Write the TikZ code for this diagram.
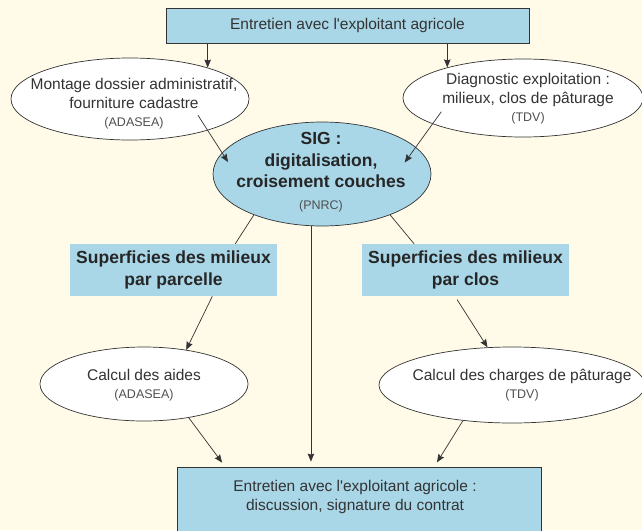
\documentclass[tikz,border=0pt]{standalone}
\usepackage{fontspec}
\setmainfont{Liberation Sans}
\usetikzlibrary{shapes.geometric,arrows.meta}
\definecolor{fond}{HTML}{FFFBE8}
\definecolor{bleu}{HTML}{A9D7E8}
\definecolor{trait}{HTML}{333333}
\definecolor{texte}{HTML}{333333}
\definecolor{gris}{HTML}{505050}
\newcommand{\petit}{\fontsize{12.5}{18.5}\selectfont\mdseries\color{gris}}
\newcommand{\apos}{\textquotesingle}

\begin{document}
\begin{tikzpicture}[x=1pt,y=-1pt,
    txt/.style={align=center,text=texte,font=\fontsize{15.5}{18.5}\selectfont},
    gras/.style={align=center,text=black!85,font=\fontsize{17.5}{21.5}\selectfont\bfseries},
    boite/.style={rectangle,fill=bleu,draw=trait,line width=0.8pt,inner sep=0pt},
    bande/.style={rectangle,fill=bleu,inner sep=0pt,minimum width=207,minimum height=52},
    oval/.style={ellipse,draw=trait,fill=white,line width=0.7pt,inner sep=0pt},
    fl/.style={draw=trait,line width=0.7pt,-{Stealth[length=8pt,width=6.5pt,inset=1pt]}},
    lien/.style={draw=trait,line width=0.7pt}]
        \clip (0,0) rectangle (642,530);
        \fill[fond] (0,0) rectangle (642,530);
        \node[boite,txt,minimum width=363,minimum height=35] (topbox) at (347.5,25.5) {Entretien avec l\apos exploitant agricole};
        \node[oval,minimum width=238,minimum height=82] (mont) at (130,99) {};
        \node[txt] (montT) at (134,104) {Montage dossier administratif,\\ fourniture cadastre\\ {\petit (ADASEA)}};
        \node[oval,minimum width=240,minimum height=78] (diag) at (523,98) {};
        \node[txt] (diagT) at (528,99) {Diagnostic exploitation :\\ milieux, clos de p\^aturage\\ {\petit (TDV)}};
        \node[oval,fill=bleu,minimum width=218,minimum height=104] (sig) at (322,174) {};
        \node[gras] (sigT) at (321,172) {SIG :\\ digitalisation,\\ croisement couches\\ {\petit (PNRC)}};
        \node[bande,gras] (supparc) at (173.5,270) {Superficies des milieux\\ par parcelle};
        \node[bande,gras] (supclos) at (465.5,270) {Superficies des milieux\\ par clos};
        \node[oval,minimum width=208,minimum height=74] (aides) at (144,384) {};
        \node[txt] (aidesT) at (144,385) {Calcul des aides\\ {\petit (ADASEA)}};
        \node[oval,minimum width=266,minimum height=76] (charges) at (512,385) {};
        \node[txt] (chargesT) at (522,385) {Calcul des charges de p\^aturage\\ {\petit (TDV)}};
        \node[boite,minimum width=364,minimum height=76] (contrat) at (359,505) {};
        \node[txt] (contratT) at (355,497) {Entretien avec l\apos exploitant agricole :\\ discussion, signature du contrat};
        % liens
        \draw[fl] (topbox.south -| mont.22) -- (mont.22);
        \draw[fl] (topbox.south -| diag.158) -- (diag.158);
        \draw[fl,shorten <=-18pt,shorten >=-11pt] (mont.-22) -- (sig.168);
        \draw[fl,shorten <=-15pt,shorten >=-19pt] (diag.196) -- (sig.16);
        \draw[lien] (sig.211) -- (supparc.23);
        \draw[lien] (sig.329) -- (supclos.153);
        \draw[fl] (supparc.-34) -- (aides.39);
        \draw[fl,shorten <=4pt] (supclos.248) -- (charges.123);
        \draw[fl,shorten >=5pt] (sig.258) -- (sig.258 |- contrat.north);
        \draw[fl,shorten >=5pt] (aides.-37) -- (contrat.164);
        \draw[fl,shorten >=5pt] (charges.216) -- (contrat.27.5);
    \end{tikzpicture}
\end{document}
